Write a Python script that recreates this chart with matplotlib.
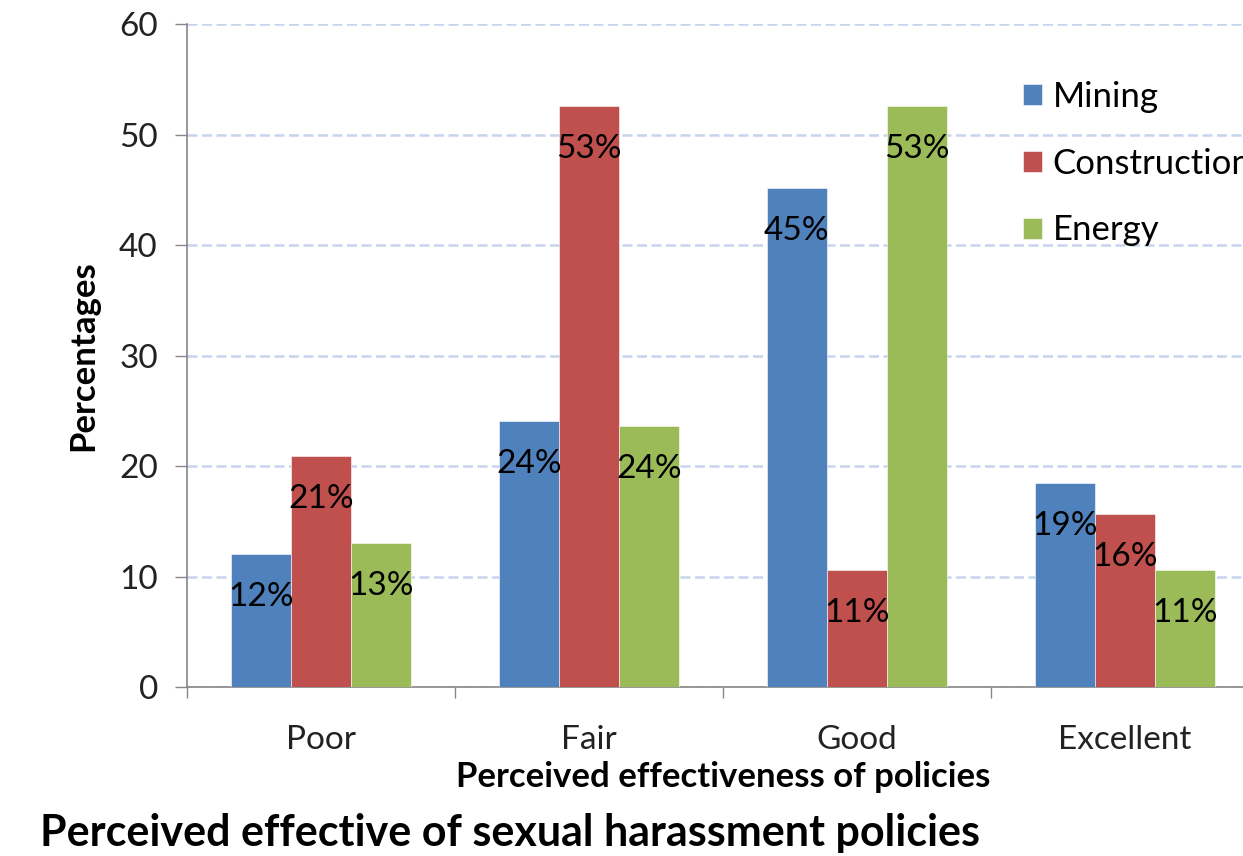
import matplotlib.pyplot as plt
import numpy as np

plt.rcParams['font.family'] = ['Lato', 'DejaVu Sans']

categories = ['Poor', 'Fair', 'Good', 'Excellent']
series = ['Mining', 'Construction', 'Energy']
mining = [12.0, 24.1, 45.2, 18.5]
construction = [20.9, 52.6, 10.6, 15.7]
energy = [13.0, 23.6, 52.6, 10.6]
mining_labels = ['12%', '24%', '45%', '19%']
construction_labels = ['21%', '53%', '11%', '16%']
energy_labels = ['13%', '24%', '53%', '11%']
colors = ['#4F81BD', '#C0504D', '#9BBB59']

fig = plt.figure(figsize=(12.43, 8.56), dpi=100)
ax = fig.add_axes([0.1504, 0.1974, 0.8624, 0.7745])

x = np.arange(len(categories))
w = 0.224
all_vals = [mining, construction, energy]
all_labels = [mining_labels, construction_labels, energy_labels]
for i, (vals, labs, name) in enumerate(zip(all_vals, all_labels, series)):
    xs = x + (i - 1) * w
    ax.bar(xs, vals, width=w, color=colors[i], label=name, zorder=3,
           edgecolor='white', linewidth=0.4)
    for xi, v, lab in zip(xs, vals, labs):
        ax.annotate(lab, xy=(xi, v), xytext=(0, -31), textcoords='offset points',
                    ha='center', va='center', fontsize=24, color='black', zorder=4)

ax.set_xlim(-0.5, 3.5)
ax.set_ylim(0, 60)
ax.set_yticks(range(0, 61, 10))
ax.yaxis.grid(True, color='#c6d4ec', linestyle=(0, (4, 1.8)), linewidth=1.8, zorder=0)
ax.set_axisbelow(True)

ax.set_xticks(x)
ax.set_xticklabels(categories, fontsize=24)
ax.set_xticks(np.arange(-0.5, 4.0, 1.0), minor=True)
ax.tick_params(axis='x', which='major', length=0, pad=27)
ax.tick_params(axis='x', which='minor', length=8, width=1, color='#868686', direction='out')
ax.tick_params(axis='y', labelsize=24, length=9, width=1, color='#868686', pad=12)
for lbl in ax.get_yticklabels() + ax.get_xticklabels():
    lbl.set_color('#222222')

for s in ['top', 'right']:
    ax.spines[s].set_visible(False)
for s in ['left', 'bottom']:
    ax.spines[s].set_color('#868686')
    ax.spines[s].set_linewidth(1.2)

ax.set_ylabel('Percentages', fontsize=25, fontweight='bold')
ax.yaxis.set_label_coords(-0.082, 0.5)
ax.set_xlabel('Perceived effectiveness of policies', fontsize=25, fontweight='bold')
ax.xaxis.set_label_coords(0.5, -0.112)

leg = ax.legend(loc='upper left', bbox_to_anchor=(0.767, 0.935), frameon=False,
                fontsize=25, handlelength=0.55, handleheight=0.55, handletextpad=0.3,
                labelspacing=1.0, borderaxespad=0)

fig.text(0.032, 0.004, 'Perceived effective of sexual harassment policies',
         fontsize=31, fontweight='bold', ha='left', va='bottom')

fig.savefig('out.png', dpi=100)
